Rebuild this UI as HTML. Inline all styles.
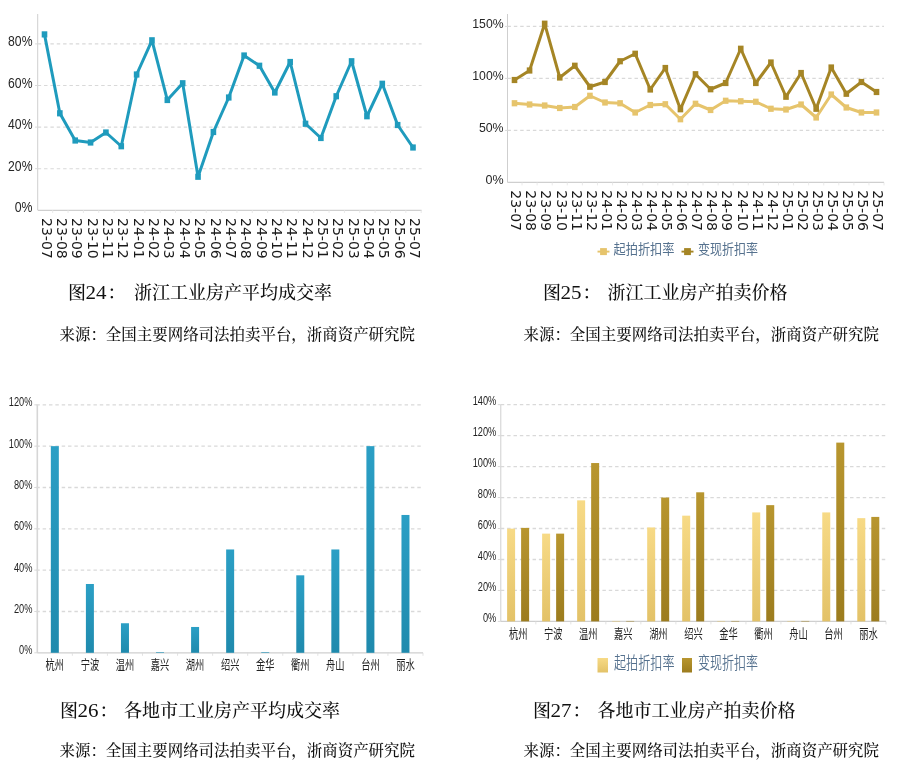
<!DOCTYPE html>
<html lang="zh-CN"><head><meta charset="utf-8"><title>浙江工业房产</title>
<style>
html,body{margin:0;padding:0;background:#fff;}
svg{display:block}
</style></head><body>
<svg width="900" height="765" viewBox="0 0 900 765">
<rect width="900" height="765" fill="#ffffff"/>
<line x1="37.7" y1="14" x2="37.7" y2="210" stroke="#cfcfcf" stroke-width="1"/>
<line x1="37.7" y1="210.4" x2="421.6" y2="210.4" stroke="#cfcfcf" stroke-width="1.2"/>
<text x="32.5" y="212.4" font-size="14" fill="#262626" text-anchor="end" style="font-family:'Liberation Sans', 'Noto Sans CJK SC', sans-serif" textLength="17.8" lengthAdjust="spacingAndGlyphs" >0%</text>
<line x1="37.7" y1="168.7" x2="421.6" y2="168.7" stroke="#d9d9d9" stroke-width="1.15" stroke-dasharray="3.45 2.9" />
<line x1="35.1" y1="168.70" x2="37.7" y2="168.70" stroke="#d9d9d9" stroke-width="1"/>
<text x="32.5" y="170.8" font-size="14" fill="#262626" text-anchor="end" style="font-family:'Liberation Sans', 'Noto Sans CJK SC', sans-serif" textLength="24.4" lengthAdjust="spacingAndGlyphs" >20%</text>
<line x1="37.7" y1="127.1" x2="421.6" y2="127.1" stroke="#d9d9d9" stroke-width="1.15" stroke-dasharray="3.45 2.9" />
<line x1="35.1" y1="127.10" x2="37.7" y2="127.10" stroke="#d9d9d9" stroke-width="1"/>
<text x="32.5" y="129.2" font-size="14" fill="#262626" text-anchor="end" style="font-family:'Liberation Sans', 'Noto Sans CJK SC', sans-serif" textLength="24.4" lengthAdjust="spacingAndGlyphs" >40%</text>
<line x1="37.7" y1="85.5" x2="421.6" y2="85.5" stroke="#d9d9d9" stroke-width="1.15" stroke-dasharray="3.45 2.9" />
<line x1="35.1" y1="85.50" x2="37.7" y2="85.50" stroke="#d9d9d9" stroke-width="1"/>
<text x="32.5" y="87.6" font-size="14" fill="#262626" text-anchor="end" style="font-family:'Liberation Sans', 'Noto Sans CJK SC', sans-serif" textLength="24.4" lengthAdjust="spacingAndGlyphs" >60%</text>
<line x1="37.7" y1="43.9" x2="421.6" y2="43.9" stroke="#d9d9d9" stroke-width="1.15" stroke-dasharray="3.45 2.9" />
<line x1="35.1" y1="43.90" x2="37.7" y2="43.90" stroke="#d9d9d9" stroke-width="1"/>
<text x="32.5" y="46.0" font-size="14" fill="#262626" text-anchor="end" style="font-family:'Liberation Sans', 'Noto Sans CJK SC', sans-serif" textLength="24.4" lengthAdjust="spacingAndGlyphs" >80%</text>
<polyline fill="none" stroke="#1f9bbd" stroke-width="3.0" stroke-linejoin="round" points="44.5,34.4 59.85,113.3 75.21,140.5 90.56,142.5 105.92,132.5 121.27,146.25 136.62,74.5 151.98,40.3 167.33,100 182.69,83.25 198.04,176.75 213.4,132 228.75,97.5 244.1,55.5 259.46,65.75 274.81,92.5 290.17,62 305.52,123.75 320.88,138 336.23,96.25 351.58,61.25 366.94,116.25 382.29,83.75 397.65,125 413.0,147.5"/>
<rect x="41.70" y="31.30" width="5.6" height="6.2" fill="#1f9bbd"/>
<rect x="57.05" y="110.20" width="5.6" height="6.2" fill="#1f9bbd"/>
<rect x="72.41" y="137.40" width="5.6" height="6.2" fill="#1f9bbd"/>
<rect x="87.76" y="139.40" width="5.6" height="6.2" fill="#1f9bbd"/>
<rect x="103.12" y="129.40" width="5.6" height="6.2" fill="#1f9bbd"/>
<rect x="118.47" y="143.15" width="5.6" height="6.2" fill="#1f9bbd"/>
<rect x="133.82" y="71.40" width="5.6" height="6.2" fill="#1f9bbd"/>
<rect x="149.18" y="37.20" width="5.6" height="6.2" fill="#1f9bbd"/>
<rect x="164.53" y="96.90" width="5.6" height="6.2" fill="#1f9bbd"/>
<rect x="179.89" y="80.15" width="5.6" height="6.2" fill="#1f9bbd"/>
<rect x="195.24" y="173.65" width="5.6" height="6.2" fill="#1f9bbd"/>
<rect x="210.60" y="128.90" width="5.6" height="6.2" fill="#1f9bbd"/>
<rect x="225.95" y="94.40" width="5.6" height="6.2" fill="#1f9bbd"/>
<rect x="241.30" y="52.40" width="5.6" height="6.2" fill="#1f9bbd"/>
<rect x="256.66" y="62.65" width="5.6" height="6.2" fill="#1f9bbd"/>
<rect x="272.01" y="89.40" width="5.6" height="6.2" fill="#1f9bbd"/>
<rect x="287.37" y="58.90" width="5.6" height="6.2" fill="#1f9bbd"/>
<rect x="302.72" y="120.65" width="5.6" height="6.2" fill="#1f9bbd"/>
<rect x="318.08" y="134.90" width="5.6" height="6.2" fill="#1f9bbd"/>
<rect x="333.43" y="93.15" width="5.6" height="6.2" fill="#1f9bbd"/>
<rect x="348.78" y="58.15" width="5.6" height="6.2" fill="#1f9bbd"/>
<rect x="364.14" y="113.15" width="5.6" height="6.2" fill="#1f9bbd"/>
<rect x="379.49" y="80.65" width="5.6" height="6.2" fill="#1f9bbd"/>
<rect x="394.85" y="121.90" width="5.6" height="6.2" fill="#1f9bbd"/>
<rect x="410.20" y="144.40" width="5.6" height="6.2" fill="#1f9bbd"/>
<line x1="52.70" y1="210" x2="52.70" y2="213" stroke="#e4e4e4" stroke-width="0.8"/>
<text transform="translate(41.60,218) rotate(90)" font-size="14" fill="#1a1a1a" style="font-family:'DejaVu Sans', 'Liberation Sans', sans-serif" textLength="40.8" lengthAdjust="spacingAndGlyphs">23-07</text>
<line x1="68.05" y1="210" x2="68.05" y2="213" stroke="#e4e4e4" stroke-width="0.8"/>
<text transform="translate(56.95,218) rotate(90)" font-size="14" fill="#1a1a1a" style="font-family:'DejaVu Sans', 'Liberation Sans', sans-serif" textLength="40.8" lengthAdjust="spacingAndGlyphs">23-08</text>
<line x1="83.41" y1="210" x2="83.41" y2="213" stroke="#e4e4e4" stroke-width="0.8"/>
<text transform="translate(72.31,218) rotate(90)" font-size="14" fill="#1a1a1a" style="font-family:'DejaVu Sans', 'Liberation Sans', sans-serif" textLength="40.8" lengthAdjust="spacingAndGlyphs">23-09</text>
<line x1="98.76" y1="210" x2="98.76" y2="213" stroke="#e4e4e4" stroke-width="0.8"/>
<text transform="translate(87.66,218) rotate(90)" font-size="14" fill="#1a1a1a" style="font-family:'DejaVu Sans', 'Liberation Sans', sans-serif" textLength="40.8" lengthAdjust="spacingAndGlyphs">23-10</text>
<line x1="114.12" y1="210" x2="114.12" y2="213" stroke="#e4e4e4" stroke-width="0.8"/>
<text transform="translate(103.02,218) rotate(90)" font-size="14" fill="#1a1a1a" style="font-family:'DejaVu Sans', 'Liberation Sans', sans-serif" textLength="40.8" lengthAdjust="spacingAndGlyphs">23-11</text>
<line x1="129.47" y1="210" x2="129.47" y2="213" stroke="#e4e4e4" stroke-width="0.8"/>
<text transform="translate(118.37,218) rotate(90)" font-size="14" fill="#1a1a1a" style="font-family:'DejaVu Sans', 'Liberation Sans', sans-serif" textLength="40.8" lengthAdjust="spacingAndGlyphs">23-12</text>
<line x1="144.82" y1="210" x2="144.82" y2="213" stroke="#e4e4e4" stroke-width="0.8"/>
<text transform="translate(133.72,218) rotate(90)" font-size="14" fill="#1a1a1a" style="font-family:'DejaVu Sans', 'Liberation Sans', sans-serif" textLength="40.8" lengthAdjust="spacingAndGlyphs">24-01</text>
<line x1="160.18" y1="210" x2="160.18" y2="213" stroke="#e4e4e4" stroke-width="0.8"/>
<text transform="translate(149.08,218) rotate(90)" font-size="14" fill="#1a1a1a" style="font-family:'DejaVu Sans', 'Liberation Sans', sans-serif" textLength="40.8" lengthAdjust="spacingAndGlyphs">24-02</text>
<line x1="175.53" y1="210" x2="175.53" y2="213" stroke="#e4e4e4" stroke-width="0.8"/>
<text transform="translate(164.43,218) rotate(90)" font-size="14" fill="#1a1a1a" style="font-family:'DejaVu Sans', 'Liberation Sans', sans-serif" textLength="40.8" lengthAdjust="spacingAndGlyphs">24-03</text>
<line x1="190.89" y1="210" x2="190.89" y2="213" stroke="#e4e4e4" stroke-width="0.8"/>
<text transform="translate(179.79,218) rotate(90)" font-size="14" fill="#1a1a1a" style="font-family:'DejaVu Sans', 'Liberation Sans', sans-serif" textLength="40.8" lengthAdjust="spacingAndGlyphs">24-04</text>
<line x1="206.24" y1="210" x2="206.24" y2="213" stroke="#e4e4e4" stroke-width="0.8"/>
<text transform="translate(195.14,218) rotate(90)" font-size="14" fill="#1a1a1a" style="font-family:'DejaVu Sans', 'Liberation Sans', sans-serif" textLength="40.8" lengthAdjust="spacingAndGlyphs">24-05</text>
<line x1="221.60" y1="210" x2="221.60" y2="213" stroke="#e4e4e4" stroke-width="0.8"/>
<text transform="translate(210.50,218) rotate(90)" font-size="14" fill="#1a1a1a" style="font-family:'DejaVu Sans', 'Liberation Sans', sans-serif" textLength="40.8" lengthAdjust="spacingAndGlyphs">24-06</text>
<line x1="236.95" y1="210" x2="236.95" y2="213" stroke="#e4e4e4" stroke-width="0.8"/>
<text transform="translate(225.85,218) rotate(90)" font-size="14" fill="#1a1a1a" style="font-family:'DejaVu Sans', 'Liberation Sans', sans-serif" textLength="40.8" lengthAdjust="spacingAndGlyphs">24-07</text>
<line x1="252.30" y1="210" x2="252.30" y2="213" stroke="#e4e4e4" stroke-width="0.8"/>
<text transform="translate(241.20,218) rotate(90)" font-size="14" fill="#1a1a1a" style="font-family:'DejaVu Sans', 'Liberation Sans', sans-serif" textLength="40.8" lengthAdjust="spacingAndGlyphs">24-08</text>
<line x1="267.66" y1="210" x2="267.66" y2="213" stroke="#e4e4e4" stroke-width="0.8"/>
<text transform="translate(256.56,218) rotate(90)" font-size="14" fill="#1a1a1a" style="font-family:'DejaVu Sans', 'Liberation Sans', sans-serif" textLength="40.8" lengthAdjust="spacingAndGlyphs">24-09</text>
<line x1="283.01" y1="210" x2="283.01" y2="213" stroke="#e4e4e4" stroke-width="0.8"/>
<text transform="translate(271.91,218) rotate(90)" font-size="14" fill="#1a1a1a" style="font-family:'DejaVu Sans', 'Liberation Sans', sans-serif" textLength="40.8" lengthAdjust="spacingAndGlyphs">24-10</text>
<line x1="298.37" y1="210" x2="298.37" y2="213" stroke="#e4e4e4" stroke-width="0.8"/>
<text transform="translate(287.27,218) rotate(90)" font-size="14" fill="#1a1a1a" style="font-family:'DejaVu Sans', 'Liberation Sans', sans-serif" textLength="40.8" lengthAdjust="spacingAndGlyphs">24-11</text>
<line x1="313.72" y1="210" x2="313.72" y2="213" stroke="#e4e4e4" stroke-width="0.8"/>
<text transform="translate(302.62,218) rotate(90)" font-size="14" fill="#1a1a1a" style="font-family:'DejaVu Sans', 'Liberation Sans', sans-serif" textLength="40.8" lengthAdjust="spacingAndGlyphs">24-12</text>
<line x1="329.07" y1="210" x2="329.07" y2="213" stroke="#e4e4e4" stroke-width="0.8"/>
<text transform="translate(317.98,218) rotate(90)" font-size="14" fill="#1a1a1a" style="font-family:'DejaVu Sans', 'Liberation Sans', sans-serif" textLength="40.8" lengthAdjust="spacingAndGlyphs">25-01</text>
<line x1="344.43" y1="210" x2="344.43" y2="213" stroke="#e4e4e4" stroke-width="0.8"/>
<text transform="translate(333.33,218) rotate(90)" font-size="14" fill="#1a1a1a" style="font-family:'DejaVu Sans', 'Liberation Sans', sans-serif" textLength="40.8" lengthAdjust="spacingAndGlyphs">25-02</text>
<line x1="359.78" y1="210" x2="359.78" y2="213" stroke="#e4e4e4" stroke-width="0.8"/>
<text transform="translate(348.68,218) rotate(90)" font-size="14" fill="#1a1a1a" style="font-family:'DejaVu Sans', 'Liberation Sans', sans-serif" textLength="40.8" lengthAdjust="spacingAndGlyphs">25-03</text>
<line x1="375.14" y1="210" x2="375.14" y2="213" stroke="#e4e4e4" stroke-width="0.8"/>
<text transform="translate(364.04,218) rotate(90)" font-size="14" fill="#1a1a1a" style="font-family:'DejaVu Sans', 'Liberation Sans', sans-serif" textLength="40.8" lengthAdjust="spacingAndGlyphs">25-04</text>
<line x1="390.49" y1="210" x2="390.49" y2="213" stroke="#e4e4e4" stroke-width="0.8"/>
<text transform="translate(379.39,218) rotate(90)" font-size="14" fill="#1a1a1a" style="font-family:'DejaVu Sans', 'Liberation Sans', sans-serif" textLength="40.8" lengthAdjust="spacingAndGlyphs">25-05</text>
<line x1="405.85" y1="210" x2="405.85" y2="213" stroke="#e4e4e4" stroke-width="0.8"/>
<text transform="translate(394.75,218) rotate(90)" font-size="14" fill="#1a1a1a" style="font-family:'DejaVu Sans', 'Liberation Sans', sans-serif" textLength="40.8" lengthAdjust="spacingAndGlyphs">25-06</text>
<line x1="421.20" y1="210" x2="421.20" y2="213" stroke="#e4e4e4" stroke-width="0.8"/>
<text transform="translate(410.10,218) rotate(90)" font-size="14" fill="#1a1a1a" style="font-family:'DejaVu Sans', 'Liberation Sans', sans-serif" textLength="40.8" lengthAdjust="spacingAndGlyphs">25-07</text>
<line x1="507.5" y1="14" x2="507.5" y2="182.4" stroke="#cfcfcf" stroke-width="1"/>
<line x1="507.5" y1="182.4" x2="884" y2="182.4" stroke="#cfcfcf" stroke-width="1.2"/>
<text x="503.6" y="183.7" font-size="13.5" fill="#262626" text-anchor="end" style="font-family:'Liberation Sans', 'Noto Sans CJK SC', sans-serif" textLength="18.1" lengthAdjust="spacingAndGlyphs" >0%</text>
<line x1="507.5" y1="130.4" x2="884" y2="130.4" stroke="#d9d9d9" stroke-width="1.15" stroke-dasharray="3.45 2.9" />
<line x1="504.9" y1="130.40" x2="507.5" y2="130.40" stroke="#d9d9d9" stroke-width="1"/>
<text x="503.6" y="131.7" font-size="13.5" fill="#262626" text-anchor="end" style="font-family:'Liberation Sans', 'Noto Sans CJK SC', sans-serif" textLength="24.7" lengthAdjust="spacingAndGlyphs" >50%</text>
<line x1="507.5" y1="78.4" x2="884" y2="78.4" stroke="#d9d9d9" stroke-width="1.15" stroke-dasharray="3.45 2.9" />
<line x1="504.9" y1="78.40" x2="507.5" y2="78.40" stroke="#d9d9d9" stroke-width="1"/>
<text x="503.6" y="79.7" font-size="13.5" fill="#262626" text-anchor="end" style="font-family:'Liberation Sans', 'Noto Sans CJK SC', sans-serif" textLength="31.3" lengthAdjust="spacingAndGlyphs" >100%</text>
<line x1="507.5" y1="26.400000000000006" x2="884" y2="26.400000000000006" stroke="#d9d9d9" stroke-width="1.15" stroke-dasharray="3.45 2.9" />
<line x1="504.9" y1="26.40" x2="507.5" y2="26.40" stroke="#d9d9d9" stroke-width="1"/>
<text x="503.6" y="27.7" font-size="13.5" fill="#262626" text-anchor="end" style="font-family:'Liberation Sans', 'Noto Sans CJK SC', sans-serif" textLength="31.3" lengthAdjust="spacingAndGlyphs" >150%</text>
<polyline fill="none" stroke="#e6c46c" stroke-width="3.0" stroke-linejoin="round" points="514.5,103.25 529.58,104.5 544.67,105.5 559.75,108 574.83,107 589.92,95.75 605.0,102.5 620.08,103.25 635.17,112.5 650.25,105 665.33,104.25 680.42,119.25 695.5,103.75 710.58,110 725.67,100.75 740.75,101.25 755.83,101.75 770.92,108.75 786.0,109.5 801.08,104.5 816.17,117.5 831.25,94.5 846.33,107.5 861.42,112.5 876.5,112.5"/>
<rect x="511.70" y="100.15" width="5.6" height="6.2" fill="#e6c46c"/>
<rect x="526.78" y="101.40" width="5.6" height="6.2" fill="#e6c46c"/>
<rect x="541.87" y="102.40" width="5.6" height="6.2" fill="#e6c46c"/>
<rect x="556.95" y="104.90" width="5.6" height="6.2" fill="#e6c46c"/>
<rect x="572.03" y="103.90" width="5.6" height="6.2" fill="#e6c46c"/>
<rect x="587.12" y="92.65" width="5.6" height="6.2" fill="#e6c46c"/>
<rect x="602.20" y="99.40" width="5.6" height="6.2" fill="#e6c46c"/>
<rect x="617.28" y="100.15" width="5.6" height="6.2" fill="#e6c46c"/>
<rect x="632.37" y="109.40" width="5.6" height="6.2" fill="#e6c46c"/>
<rect x="647.45" y="101.90" width="5.6" height="6.2" fill="#e6c46c"/>
<rect x="662.53" y="101.15" width="5.6" height="6.2" fill="#e6c46c"/>
<rect x="677.62" y="116.15" width="5.6" height="6.2" fill="#e6c46c"/>
<rect x="692.70" y="100.65" width="5.6" height="6.2" fill="#e6c46c"/>
<rect x="707.78" y="106.90" width="5.6" height="6.2" fill="#e6c46c"/>
<rect x="722.87" y="97.65" width="5.6" height="6.2" fill="#e6c46c"/>
<rect x="737.95" y="98.15" width="5.6" height="6.2" fill="#e6c46c"/>
<rect x="753.03" y="98.65" width="5.6" height="6.2" fill="#e6c46c"/>
<rect x="768.12" y="105.65" width="5.6" height="6.2" fill="#e6c46c"/>
<rect x="783.20" y="106.40" width="5.6" height="6.2" fill="#e6c46c"/>
<rect x="798.28" y="101.40" width="5.6" height="6.2" fill="#e6c46c"/>
<rect x="813.37" y="114.40" width="5.6" height="6.2" fill="#e6c46c"/>
<rect x="828.45" y="91.40" width="5.6" height="6.2" fill="#e6c46c"/>
<rect x="843.53" y="104.40" width="5.6" height="6.2" fill="#e6c46c"/>
<rect x="858.62" y="109.40" width="5.6" height="6.2" fill="#e6c46c"/>
<rect x="873.70" y="109.40" width="5.6" height="6.2" fill="#e6c46c"/>
<polyline fill="none" stroke="#a58525" stroke-width="3.0" stroke-linejoin="round" points="514.5,80 529.58,70.5 544.67,23.7 559.75,77.5 574.83,65.75 589.92,86.75 605.0,82 620.08,61.25 635.17,53.75 650.25,89.5 665.33,68 680.42,109.25 695.5,74.25 710.58,89.25 725.67,83 740.75,48.75 755.83,83 770.92,62.5 786.0,96.75 801.08,73 816.17,108.75 831.25,67.5 846.33,93.75 861.42,82 876.5,92"/>
<rect x="511.70" y="76.90" width="5.6" height="6.2" fill="#a58525"/>
<rect x="526.78" y="67.40" width="5.6" height="6.2" fill="#a58525"/>
<rect x="541.87" y="20.60" width="5.6" height="6.2" fill="#a58525"/>
<rect x="556.95" y="74.40" width="5.6" height="6.2" fill="#a58525"/>
<rect x="572.03" y="62.65" width="5.6" height="6.2" fill="#a58525"/>
<rect x="587.12" y="83.65" width="5.6" height="6.2" fill="#a58525"/>
<rect x="602.20" y="78.90" width="5.6" height="6.2" fill="#a58525"/>
<rect x="617.28" y="58.15" width="5.6" height="6.2" fill="#a58525"/>
<rect x="632.37" y="50.65" width="5.6" height="6.2" fill="#a58525"/>
<rect x="647.45" y="86.40" width="5.6" height="6.2" fill="#a58525"/>
<rect x="662.53" y="64.90" width="5.6" height="6.2" fill="#a58525"/>
<rect x="677.62" y="106.15" width="5.6" height="6.2" fill="#a58525"/>
<rect x="692.70" y="71.15" width="5.6" height="6.2" fill="#a58525"/>
<rect x="707.78" y="86.15" width="5.6" height="6.2" fill="#a58525"/>
<rect x="722.87" y="79.90" width="5.6" height="6.2" fill="#a58525"/>
<rect x="737.95" y="45.65" width="5.6" height="6.2" fill="#a58525"/>
<rect x="753.03" y="79.90" width="5.6" height="6.2" fill="#a58525"/>
<rect x="768.12" y="59.40" width="5.6" height="6.2" fill="#a58525"/>
<rect x="783.20" y="93.65" width="5.6" height="6.2" fill="#a58525"/>
<rect x="798.28" y="69.90" width="5.6" height="6.2" fill="#a58525"/>
<rect x="813.37" y="105.65" width="5.6" height="6.2" fill="#a58525"/>
<rect x="828.45" y="64.40" width="5.6" height="6.2" fill="#a58525"/>
<rect x="843.53" y="90.65" width="5.6" height="6.2" fill="#a58525"/>
<rect x="858.62" y="78.90" width="5.6" height="6.2" fill="#a58525"/>
<rect x="873.70" y="88.90" width="5.6" height="6.2" fill="#a58525"/>
<line x1="522.04" y1="182.4" x2="522.04" y2="185.4" stroke="#e4e4e4" stroke-width="0.8"/>
<text transform="translate(511.30,190.2) rotate(90)" font-size="14" fill="#1a1a1a" style="font-family:'DejaVu Sans', 'Liberation Sans', sans-serif" textLength="40.8" lengthAdjust="spacingAndGlyphs">23-07</text>
<line x1="537.12" y1="182.4" x2="537.12" y2="185.4" stroke="#e4e4e4" stroke-width="0.8"/>
<text transform="translate(526.38,190.2) rotate(90)" font-size="14" fill="#1a1a1a" style="font-family:'DejaVu Sans', 'Liberation Sans', sans-serif" textLength="40.8" lengthAdjust="spacingAndGlyphs">23-08</text>
<line x1="552.21" y1="182.4" x2="552.21" y2="185.4" stroke="#e4e4e4" stroke-width="0.8"/>
<text transform="translate(541.47,190.2) rotate(90)" font-size="14" fill="#1a1a1a" style="font-family:'DejaVu Sans', 'Liberation Sans', sans-serif" textLength="40.8" lengthAdjust="spacingAndGlyphs">23-09</text>
<line x1="567.29" y1="182.4" x2="567.29" y2="185.4" stroke="#e4e4e4" stroke-width="0.8"/>
<text transform="translate(556.55,190.2) rotate(90)" font-size="14" fill="#1a1a1a" style="font-family:'DejaVu Sans', 'Liberation Sans', sans-serif" textLength="40.8" lengthAdjust="spacingAndGlyphs">23-10</text>
<line x1="582.38" y1="182.4" x2="582.38" y2="185.4" stroke="#e4e4e4" stroke-width="0.8"/>
<text transform="translate(571.63,190.2) rotate(90)" font-size="14" fill="#1a1a1a" style="font-family:'DejaVu Sans', 'Liberation Sans', sans-serif" textLength="40.8" lengthAdjust="spacingAndGlyphs">23-11</text>
<line x1="597.46" y1="182.4" x2="597.46" y2="185.4" stroke="#e4e4e4" stroke-width="0.8"/>
<text transform="translate(586.72,190.2) rotate(90)" font-size="14" fill="#1a1a1a" style="font-family:'DejaVu Sans', 'Liberation Sans', sans-serif" textLength="40.8" lengthAdjust="spacingAndGlyphs">23-12</text>
<line x1="612.54" y1="182.4" x2="612.54" y2="185.4" stroke="#e4e4e4" stroke-width="0.8"/>
<text transform="translate(601.80,190.2) rotate(90)" font-size="14" fill="#1a1a1a" style="font-family:'DejaVu Sans', 'Liberation Sans', sans-serif" textLength="40.8" lengthAdjust="spacingAndGlyphs">24-01</text>
<line x1="627.62" y1="182.4" x2="627.62" y2="185.4" stroke="#e4e4e4" stroke-width="0.8"/>
<text transform="translate(616.88,190.2) rotate(90)" font-size="14" fill="#1a1a1a" style="font-family:'DejaVu Sans', 'Liberation Sans', sans-serif" textLength="40.8" lengthAdjust="spacingAndGlyphs">24-02</text>
<line x1="642.71" y1="182.4" x2="642.71" y2="185.4" stroke="#e4e4e4" stroke-width="0.8"/>
<text transform="translate(631.97,190.2) rotate(90)" font-size="14" fill="#1a1a1a" style="font-family:'DejaVu Sans', 'Liberation Sans', sans-serif" textLength="40.8" lengthAdjust="spacingAndGlyphs">24-03</text>
<line x1="657.79" y1="182.4" x2="657.79" y2="185.4" stroke="#e4e4e4" stroke-width="0.8"/>
<text transform="translate(647.05,190.2) rotate(90)" font-size="14" fill="#1a1a1a" style="font-family:'DejaVu Sans', 'Liberation Sans', sans-serif" textLength="40.8" lengthAdjust="spacingAndGlyphs">24-04</text>
<line x1="672.88" y1="182.4" x2="672.88" y2="185.4" stroke="#e4e4e4" stroke-width="0.8"/>
<text transform="translate(662.13,190.2) rotate(90)" font-size="14" fill="#1a1a1a" style="font-family:'DejaVu Sans', 'Liberation Sans', sans-serif" textLength="40.8" lengthAdjust="spacingAndGlyphs">24-05</text>
<line x1="687.96" y1="182.4" x2="687.96" y2="185.4" stroke="#e4e4e4" stroke-width="0.8"/>
<text transform="translate(677.22,190.2) rotate(90)" font-size="14" fill="#1a1a1a" style="font-family:'DejaVu Sans', 'Liberation Sans', sans-serif" textLength="40.8" lengthAdjust="spacingAndGlyphs">24-06</text>
<line x1="703.04" y1="182.4" x2="703.04" y2="185.4" stroke="#e4e4e4" stroke-width="0.8"/>
<text transform="translate(692.30,190.2) rotate(90)" font-size="14" fill="#1a1a1a" style="font-family:'DejaVu Sans', 'Liberation Sans', sans-serif" textLength="40.8" lengthAdjust="spacingAndGlyphs">24-07</text>
<line x1="718.12" y1="182.4" x2="718.12" y2="185.4" stroke="#e4e4e4" stroke-width="0.8"/>
<text transform="translate(707.38,190.2) rotate(90)" font-size="14" fill="#1a1a1a" style="font-family:'DejaVu Sans', 'Liberation Sans', sans-serif" textLength="40.8" lengthAdjust="spacingAndGlyphs">24-08</text>
<line x1="733.21" y1="182.4" x2="733.21" y2="185.4" stroke="#e4e4e4" stroke-width="0.8"/>
<text transform="translate(722.47,190.2) rotate(90)" font-size="14" fill="#1a1a1a" style="font-family:'DejaVu Sans', 'Liberation Sans', sans-serif" textLength="40.8" lengthAdjust="spacingAndGlyphs">24-09</text>
<line x1="748.29" y1="182.4" x2="748.29" y2="185.4" stroke="#e4e4e4" stroke-width="0.8"/>
<text transform="translate(737.55,190.2) rotate(90)" font-size="14" fill="#1a1a1a" style="font-family:'DejaVu Sans', 'Liberation Sans', sans-serif" textLength="40.8" lengthAdjust="spacingAndGlyphs">24-10</text>
<line x1="763.38" y1="182.4" x2="763.38" y2="185.4" stroke="#e4e4e4" stroke-width="0.8"/>
<text transform="translate(752.63,190.2) rotate(90)" font-size="14" fill="#1a1a1a" style="font-family:'DejaVu Sans', 'Liberation Sans', sans-serif" textLength="40.8" lengthAdjust="spacingAndGlyphs">24-11</text>
<line x1="778.46" y1="182.4" x2="778.46" y2="185.4" stroke="#e4e4e4" stroke-width="0.8"/>
<text transform="translate(767.72,190.2) rotate(90)" font-size="14" fill="#1a1a1a" style="font-family:'DejaVu Sans', 'Liberation Sans', sans-serif" textLength="40.8" lengthAdjust="spacingAndGlyphs">24-12</text>
<line x1="793.54" y1="182.4" x2="793.54" y2="185.4" stroke="#e4e4e4" stroke-width="0.8"/>
<text transform="translate(782.80,190.2) rotate(90)" font-size="14" fill="#1a1a1a" style="font-family:'DejaVu Sans', 'Liberation Sans', sans-serif" textLength="40.8" lengthAdjust="spacingAndGlyphs">25-01</text>
<line x1="808.62" y1="182.4" x2="808.62" y2="185.4" stroke="#e4e4e4" stroke-width="0.8"/>
<text transform="translate(797.88,190.2) rotate(90)" font-size="14" fill="#1a1a1a" style="font-family:'DejaVu Sans', 'Liberation Sans', sans-serif" textLength="40.8" lengthAdjust="spacingAndGlyphs">25-02</text>
<line x1="823.71" y1="182.4" x2="823.71" y2="185.4" stroke="#e4e4e4" stroke-width="0.8"/>
<text transform="translate(812.97,190.2) rotate(90)" font-size="14" fill="#1a1a1a" style="font-family:'DejaVu Sans', 'Liberation Sans', sans-serif" textLength="40.8" lengthAdjust="spacingAndGlyphs">25-03</text>
<line x1="838.79" y1="182.4" x2="838.79" y2="185.4" stroke="#e4e4e4" stroke-width="0.8"/>
<text transform="translate(828.05,190.2) rotate(90)" font-size="14" fill="#1a1a1a" style="font-family:'DejaVu Sans', 'Liberation Sans', sans-serif" textLength="40.8" lengthAdjust="spacingAndGlyphs">25-04</text>
<line x1="853.88" y1="182.4" x2="853.88" y2="185.4" stroke="#e4e4e4" stroke-width="0.8"/>
<text transform="translate(843.13,190.2) rotate(90)" font-size="14" fill="#1a1a1a" style="font-family:'DejaVu Sans', 'Liberation Sans', sans-serif" textLength="40.8" lengthAdjust="spacingAndGlyphs">25-05</text>
<line x1="868.96" y1="182.4" x2="868.96" y2="185.4" stroke="#e4e4e4" stroke-width="0.8"/>
<text transform="translate(858.22,190.2) rotate(90)" font-size="14" fill="#1a1a1a" style="font-family:'DejaVu Sans', 'Liberation Sans', sans-serif" textLength="40.8" lengthAdjust="spacingAndGlyphs">25-06</text>
<line x1="884.04" y1="182.4" x2="884.04" y2="185.4" stroke="#e4e4e4" stroke-width="0.8"/>
<text transform="translate(873.30,190.2) rotate(90)" font-size="14" fill="#1a1a1a" style="font-family:'DejaVu Sans', 'Liberation Sans', sans-serif" textLength="40.8" lengthAdjust="spacingAndGlyphs">25-07</text>
<line x1="597.5" y1="251.6" x2="609.5" y2="251.6" stroke="#e6c46c" stroke-width="1.9"/>
<rect x="600.1" y="248.1" width="6.8" height="7" fill="#e6c46c"/>
<text x="613.5" y="254.2" font-size="13.5" fill="#55718e" text-anchor="start" style="font-family:'Liberation Sans', 'Noto Sans CJK SC', sans-serif" textLength="61" lengthAdjust="spacingAndGlyphs" >起拍折扣率</text>
<line x1="681.5" y1="251.6" x2="693.5" y2="251.6" stroke="#a58525" stroke-width="1.9"/>
<rect x="684.1" y="248.1" width="6.8" height="7" fill="#a58525"/>
<text x="698" y="254.2" font-size="13.5" fill="#55718e" text-anchor="start" style="font-family:'Liberation Sans', 'Noto Sans CJK SC', sans-serif" textLength="60" lengthAdjust="spacingAndGlyphs" >变现折扣率</text>
<text x="68" y="299" font-size="18" fill="#111" text-anchor="start" style="font-family:'Liberation Serif', 'Noto Serif CJK SC', serif" font-weight="500">图</text>
<text x="85.6" y="299" font-size="18" fill="#111" text-anchor="start" style="font-family:'Liberation Serif', 'Noto Serif CJK SC', serif" textLength="21" lengthAdjust="spacingAndGlyphs" font-weight="500">24</text>
<text x="107.5" y="299" font-size="18" fill="#111" text-anchor="start" style="font-family:'Liberation Serif', 'Noto Serif CJK SC', serif" font-weight="500">：</text>
<text x="134" y="299" font-size="18" fill="#111" text-anchor="start" style="font-family:'Liberation Serif', 'Noto Serif CJK SC', serif" textLength="198.0" lengthAdjust="spacingAndGlyphs" font-weight="500">浙江工业房产平均成交率</text>
<text x="59.5" y="339.5" font-size="15.5" fill="#111" text-anchor="start" style="font-family:'Liberation Serif', 'Noto Serif CJK SC', serif" textLength="355.5" lengthAdjust="spacingAndGlyphs" font-weight="500">来源：全国主要网络司法拍卖平台，浙商资产研究院</text>
<text x="543" y="299" font-size="18" fill="#111" text-anchor="start" style="font-family:'Liberation Serif', 'Noto Serif CJK SC', serif" font-weight="500">图</text>
<text x="560.6" y="299" font-size="18" fill="#111" text-anchor="start" style="font-family:'Liberation Serif', 'Noto Serif CJK SC', serif" textLength="21" lengthAdjust="spacingAndGlyphs" font-weight="500">25</text>
<text x="582.5" y="299" font-size="18" fill="#111" text-anchor="start" style="font-family:'Liberation Serif', 'Noto Serif CJK SC', serif" font-weight="500">：</text>
<text x="607.5" y="299" font-size="18" fill="#111" text-anchor="start" style="font-family:'Liberation Serif', 'Noto Serif CJK SC', serif" textLength="180.0" lengthAdjust="spacingAndGlyphs" font-weight="500">浙江工业房产拍卖价格</text>
<text x="523.5" y="339.5" font-size="15.5" fill="#111" text-anchor="start" style="font-family:'Liberation Serif', 'Noto Serif CJK SC', serif" textLength="355.5" lengthAdjust="spacingAndGlyphs" font-weight="500">来源：全国主要网络司法拍卖平台，浙商资产研究院</text>
<text x="60" y="717" font-size="18" fill="#111" text-anchor="start" style="font-family:'Liberation Serif', 'Noto Serif CJK SC', serif" font-weight="500">图</text>
<text x="77.6" y="717" font-size="18" fill="#111" text-anchor="start" style="font-family:'Liberation Serif', 'Noto Serif CJK SC', serif" textLength="21" lengthAdjust="spacingAndGlyphs" font-weight="500">26</text>
<text x="99.5" y="717" font-size="18" fill="#111" text-anchor="start" style="font-family:'Liberation Serif', 'Noto Serif CJK SC', serif" font-weight="500">：</text>
<text x="124" y="717" font-size="18" fill="#111" text-anchor="start" style="font-family:'Liberation Serif', 'Noto Serif CJK SC', serif" textLength="216.0" lengthAdjust="spacingAndGlyphs" font-weight="500">各地市工业房产平均成交率</text>
<text x="59.5" y="756" font-size="15.5" fill="#111" text-anchor="start" style="font-family:'Liberation Serif', 'Noto Serif CJK SC', serif" textLength="355.5" lengthAdjust="spacingAndGlyphs" font-weight="500">来源：全国主要网络司法拍卖平台，浙商资产研究院</text>
<text x="533" y="717" font-size="18" fill="#111" text-anchor="start" style="font-family:'Liberation Serif', 'Noto Serif CJK SC', serif" font-weight="500">图</text>
<text x="550.6" y="717" font-size="18" fill="#111" text-anchor="start" style="font-family:'Liberation Serif', 'Noto Serif CJK SC', serif" textLength="21" lengthAdjust="spacingAndGlyphs" font-weight="500">27</text>
<text x="572.5" y="717" font-size="18" fill="#111" text-anchor="start" style="font-family:'Liberation Serif', 'Noto Serif CJK SC', serif" font-weight="500">：</text>
<text x="597.5" y="717" font-size="18" fill="#111" text-anchor="start" style="font-family:'Liberation Serif', 'Noto Serif CJK SC', serif" textLength="198.0" lengthAdjust="spacingAndGlyphs" font-weight="500">各地市工业房产拍卖价格</text>
<text x="523.5" y="756" font-size="15.5" fill="#111" text-anchor="start" style="font-family:'Liberation Serif', 'Noto Serif CJK SC', serif" textLength="355.5" lengthAdjust="spacingAndGlyphs" font-weight="500">来源：全国主要网络司法拍卖平台，浙商资产研究院</text>
<defs><linearGradient id="gb" x1="0" y1="0" x2="0" y2="1"><stop offset="0" stop-color="#2b9fc5"/><stop offset="1" stop-color="#1f8aad"/></linearGradient><linearGradient id="gl" x1="0" y1="0" x2="0" y2="1"><stop offset="0" stop-color="#f7da86"/><stop offset="1" stop-color="#e3c268"/></linearGradient><linearGradient id="gd" x1="0" y1="0" x2="0" y2="1"><stop offset="0" stop-color="#b8962f"/><stop offset="1" stop-color="#9c7c1e"/></linearGradient></defs>
<line x1="37.3" y1="404.82" x2="37.3" y2="652.8" stroke="#d6d6d6" stroke-width="1.6"/>
<line x1="34.3" y1="652.8" x2="37.3" y2="652.8" stroke="#d9d9d9" stroke-width="1"/>
<text x="32.4" y="654.2" font-size="13.5" fill="#222" text-anchor="end" style="font-family:'Liberation Sans', 'Noto Sans CJK SC', sans-serif" textLength="13.3" lengthAdjust="spacingAndGlyphs" >0%</text>
<line x1="36.3" y1="611.47" x2="423" y2="611.47" stroke="#d9d9d9" stroke-width="1.35" stroke-dasharray="3.45 2.9" />
<line x1="34.3" y1="611.47" x2="37.3" y2="611.47" stroke="#d9d9d9" stroke-width="1"/>
<text x="32.4" y="612.87" font-size="13.5" fill="#222" text-anchor="end" style="font-family:'Liberation Sans', 'Noto Sans CJK SC', sans-serif" textLength="18.5" lengthAdjust="spacingAndGlyphs" >20%</text>
<line x1="36.3" y1="570.14" x2="423" y2="570.14" stroke="#d9d9d9" stroke-width="1.35" stroke-dasharray="3.45 2.9" />
<line x1="34.3" y1="570.14" x2="37.3" y2="570.14" stroke="#d9d9d9" stroke-width="1"/>
<text x="32.4" y="571.54" font-size="13.5" fill="#222" text-anchor="end" style="font-family:'Liberation Sans', 'Noto Sans CJK SC', sans-serif" textLength="18.5" lengthAdjust="spacingAndGlyphs" >40%</text>
<line x1="36.3" y1="528.81" x2="423" y2="528.81" stroke="#d9d9d9" stroke-width="1.35" stroke-dasharray="3.45 2.9" />
<line x1="34.3" y1="528.81" x2="37.3" y2="528.81" stroke="#d9d9d9" stroke-width="1"/>
<text x="32.4" y="530.21" font-size="13.5" fill="#222" text-anchor="end" style="font-family:'Liberation Sans', 'Noto Sans CJK SC', sans-serif" textLength="18.5" lengthAdjust="spacingAndGlyphs" >60%</text>
<line x1="36.3" y1="487.48" x2="423" y2="487.48" stroke="#d9d9d9" stroke-width="1.35" stroke-dasharray="3.45 2.9" />
<line x1="34.3" y1="487.48" x2="37.3" y2="487.48" stroke="#d9d9d9" stroke-width="1"/>
<text x="32.4" y="488.88" font-size="13.5" fill="#222" text-anchor="end" style="font-family:'Liberation Sans', 'Noto Sans CJK SC', sans-serif" textLength="18.5" lengthAdjust="spacingAndGlyphs" >80%</text>
<line x1="36.3" y1="446.15" x2="423" y2="446.15" stroke="#d9d9d9" stroke-width="1.35" stroke-dasharray="3.45 2.9" />
<line x1="34.3" y1="446.15" x2="37.3" y2="446.15" stroke="#d9d9d9" stroke-width="1"/>
<text x="32.4" y="447.55" font-size="13.5" fill="#222" text-anchor="end" style="font-family:'Liberation Sans', 'Noto Sans CJK SC', sans-serif" textLength="23.6" lengthAdjust="spacingAndGlyphs" >100%</text>
<line x1="36.3" y1="404.82" x2="423" y2="404.82" stroke="#d9d9d9" stroke-width="1.35" stroke-dasharray="3.45 2.9" />
<line x1="34.3" y1="404.82" x2="37.3" y2="404.82" stroke="#d9d9d9" stroke-width="1"/>
<text x="32.4" y="406.22" font-size="13.5" fill="#222" text-anchor="end" style="font-family:'Liberation Sans', 'Noto Sans CJK SC', sans-serif" textLength="23.6" lengthAdjust="spacingAndGlyphs" >120%</text>
<line x1="37.3" y1="652.8" x2="423" y2="652.8" stroke="#cfcfcf" stroke-width="1.2"/>
<rect x="50.83" y="446.15" width="8" height="206.65" fill="url(#gb)"/>
<line x1="72.36" y1="652.8" x2="72.36" y2="655.8" stroke="#dcdcdc" stroke-width="0.8"/>
<text x="54.83" y="669.3" font-size="13" fill="#222" text-anchor="middle" style="font-family:'Liberation Sans', 'Noto Sans CJK SC', sans-serif" textLength="18.5" lengthAdjust="spacingAndGlyphs" >杭州</text>
<rect x="85.90" y="583.99" width="8" height="68.81" fill="url(#gb)"/>
<line x1="107.43" y1="652.8" x2="107.43" y2="655.8" stroke="#dcdcdc" stroke-width="0.8"/>
<text x="89.9" y="669.3" font-size="13" fill="#222" text-anchor="middle" style="font-family:'Liberation Sans', 'Noto Sans CJK SC', sans-serif" textLength="18.5" lengthAdjust="spacingAndGlyphs" >宁波</text>
<rect x="120.96" y="623.25" width="8" height="29.55" fill="url(#gb)"/>
<line x1="142.49" y1="652.8" x2="142.49" y2="655.8" stroke="#dcdcdc" stroke-width="0.8"/>
<text x="124.96" y="669.3" font-size="13" fill="#222" text-anchor="middle" style="font-family:'Liberation Sans', 'Noto Sans CJK SC', sans-serif" textLength="18.5" lengthAdjust="spacingAndGlyphs" >温州</text>
<rect x="156.02" y="652.18" width="8" height="0.62" fill="url(#gb)"/>
<line x1="177.55" y1="652.8" x2="177.55" y2="655.8" stroke="#dcdcdc" stroke-width="0.8"/>
<text x="160.02" y="669.3" font-size="13" fill="#222" text-anchor="middle" style="font-family:'Liberation Sans', 'Noto Sans CJK SC', sans-serif" textLength="18.5" lengthAdjust="spacingAndGlyphs" >嘉兴</text>
<rect x="191.09" y="626.97" width="8" height="25.83" fill="url(#gb)"/>
<line x1="212.62" y1="652.8" x2="212.62" y2="655.8" stroke="#dcdcdc" stroke-width="0.8"/>
<text x="195.09" y="669.3" font-size="13" fill="#222" text-anchor="middle" style="font-family:'Liberation Sans', 'Noto Sans CJK SC', sans-serif" textLength="18.5" lengthAdjust="spacingAndGlyphs" >湖州</text>
<rect x="226.15" y="549.47" width="8" height="103.32" fill="url(#gb)"/>
<line x1="247.68" y1="652.8" x2="247.68" y2="655.8" stroke="#dcdcdc" stroke-width="0.8"/>
<text x="230.15" y="669.3" font-size="13" fill="#222" text-anchor="middle" style="font-family:'Liberation Sans', 'Noto Sans CJK SC', sans-serif" textLength="18.5" lengthAdjust="spacingAndGlyphs" >绍兴</text>
<rect x="261.21" y="652.18" width="8" height="0.62" fill="url(#gb)"/>
<line x1="282.75" y1="652.8" x2="282.75" y2="655.8" stroke="#dcdcdc" stroke-width="0.8"/>
<text x="265.21" y="669.3" font-size="13" fill="#222" text-anchor="middle" style="font-family:'Liberation Sans', 'Noto Sans CJK SC', sans-serif" textLength="18.5" lengthAdjust="spacingAndGlyphs" >金华</text>
<rect x="296.28" y="575.31" width="8" height="77.49" fill="url(#gb)"/>
<line x1="317.81" y1="652.8" x2="317.81" y2="655.8" stroke="#dcdcdc" stroke-width="0.8"/>
<text x="300.28" y="669.3" font-size="13" fill="#222" text-anchor="middle" style="font-family:'Liberation Sans', 'Noto Sans CJK SC', sans-serif" textLength="18.5" lengthAdjust="spacingAndGlyphs" >衢州</text>
<rect x="331.34" y="549.47" width="8" height="103.32" fill="url(#gb)"/>
<line x1="352.87" y1="652.8" x2="352.87" y2="655.8" stroke="#dcdcdc" stroke-width="0.8"/>
<text x="335.34" y="669.3" font-size="13" fill="#222" text-anchor="middle" style="font-family:'Liberation Sans', 'Noto Sans CJK SC', sans-serif" textLength="18.5" lengthAdjust="spacingAndGlyphs" >舟山</text>
<rect x="366.40" y="446.15" width="8" height="206.65" fill="url(#gb)"/>
<line x1="387.94" y1="652.8" x2="387.94" y2="655.8" stroke="#dcdcdc" stroke-width="0.8"/>
<text x="370.4" y="669.3" font-size="13" fill="#222" text-anchor="middle" style="font-family:'Liberation Sans', 'Noto Sans CJK SC', sans-serif" textLength="18.5" lengthAdjust="spacingAndGlyphs" >台州</text>
<rect x="401.47" y="514.96" width="8" height="137.84" fill="url(#gb)"/>
<line x1="423.00" y1="652.8" x2="423.00" y2="655.8" stroke="#dcdcdc" stroke-width="0.8"/>
<text x="405.47" y="669.3" font-size="13" fill="#222" text-anchor="middle" style="font-family:'Liberation Sans', 'Noto Sans CJK SC', sans-serif" textLength="18.5" lengthAdjust="spacingAndGlyphs" >丽水</text>
<line x1="500.8" y1="404.68" x2="500.8" y2="621.4" stroke="#cfcfcf" stroke-width="1"/>
<line x1="497.8" y1="621.4" x2="500.8" y2="621.4" stroke="#d9d9d9" stroke-width="1"/>
<text x="496.3" y="622.1" font-size="13.5" fill="#222" text-anchor="end" style="font-family:'Liberation Sans', 'Noto Sans CJK SC', sans-serif" textLength="13.3" lengthAdjust="spacingAndGlyphs" >0%</text>
<line x1="500.8" y1="590.44" x2="886" y2="590.44" stroke="#d9d9d9" stroke-width="1.35" stroke-dasharray="3.45 2.9" />
<line x1="497.8" y1="590.44" x2="500.8" y2="590.44" stroke="#d9d9d9" stroke-width="1"/>
<text x="496.3" y="591.14" font-size="13.5" fill="#222" text-anchor="end" style="font-family:'Liberation Sans', 'Noto Sans CJK SC', sans-serif" textLength="18.5" lengthAdjust="spacingAndGlyphs" >20%</text>
<line x1="500.8" y1="559.48" x2="886" y2="559.48" stroke="#d9d9d9" stroke-width="1.35" stroke-dasharray="3.45 2.9" />
<line x1="497.8" y1="559.48" x2="500.8" y2="559.48" stroke="#d9d9d9" stroke-width="1"/>
<text x="496.3" y="560.18" font-size="13.5" fill="#222" text-anchor="end" style="font-family:'Liberation Sans', 'Noto Sans CJK SC', sans-serif" textLength="18.5" lengthAdjust="spacingAndGlyphs" >40%</text>
<line x1="500.8" y1="528.52" x2="886" y2="528.52" stroke="#d9d9d9" stroke-width="1.35" stroke-dasharray="3.45 2.9" />
<line x1="497.8" y1="528.52" x2="500.8" y2="528.52" stroke="#d9d9d9" stroke-width="1"/>
<text x="496.3" y="529.22" font-size="13.5" fill="#222" text-anchor="end" style="font-family:'Liberation Sans', 'Noto Sans CJK SC', sans-serif" textLength="18.5" lengthAdjust="spacingAndGlyphs" >60%</text>
<line x1="500.8" y1="497.56" x2="886" y2="497.56" stroke="#d9d9d9" stroke-width="1.35" stroke-dasharray="3.45 2.9" />
<line x1="497.8" y1="497.56" x2="500.8" y2="497.56" stroke="#d9d9d9" stroke-width="1"/>
<text x="496.3" y="498.26" font-size="13.5" fill="#222" text-anchor="end" style="font-family:'Liberation Sans', 'Noto Sans CJK SC', sans-serif" textLength="18.5" lengthAdjust="spacingAndGlyphs" >80%</text>
<line x1="500.8" y1="466.6" x2="886" y2="466.6" stroke="#d9d9d9" stroke-width="1.35" stroke-dasharray="3.45 2.9" />
<line x1="497.8" y1="466.6" x2="500.8" y2="466.6" stroke="#d9d9d9" stroke-width="1"/>
<text x="496.3" y="467.3" font-size="13.5" fill="#222" text-anchor="end" style="font-family:'Liberation Sans', 'Noto Sans CJK SC', sans-serif" textLength="23.6" lengthAdjust="spacingAndGlyphs" >100%</text>
<line x1="500.8" y1="435.64" x2="886" y2="435.64" stroke="#d9d9d9" stroke-width="1.35" stroke-dasharray="3.45 2.9" />
<line x1="497.8" y1="435.64" x2="500.8" y2="435.64" stroke="#d9d9d9" stroke-width="1"/>
<text x="496.3" y="436.34" font-size="13.5" fill="#222" text-anchor="end" style="font-family:'Liberation Sans', 'Noto Sans CJK SC', sans-serif" textLength="23.6" lengthAdjust="spacingAndGlyphs" >120%</text>
<line x1="500.8" y1="404.68" x2="886" y2="404.68" stroke="#d9d9d9" stroke-width="1.35" stroke-dasharray="3.45 2.9" />
<line x1="497.8" y1="404.68" x2="500.8" y2="404.68" stroke="#d9d9d9" stroke-width="1"/>
<text x="496.3" y="405.38" font-size="13.5" fill="#222" text-anchor="end" style="font-family:'Liberation Sans', 'Noto Sans CJK SC', sans-serif" textLength="23.6" lengthAdjust="spacingAndGlyphs" >140%</text>
<line x1="500.8" y1="621.4" x2="886" y2="621.4" stroke="#cfcfcf" stroke-width="1.2"/>
<rect x="507.11" y="528.67" width="8" height="92.73" fill="url(#gl)"/>
<rect x="521.11" y="527.90" width="8" height="93.50" fill="url(#gd)"/>
<line x1="535.82" y1="621.4" x2="535.82" y2="624.4" stroke="#dcdcdc" stroke-width="0.8"/>
<text x="518.31" y="638.3" font-size="13" fill="#222" text-anchor="middle" style="font-family:'Liberation Sans', 'Noto Sans CJK SC', sans-serif" textLength="18.5" lengthAdjust="spacingAndGlyphs" >杭州</text>
<rect x="542.13" y="533.63" width="8" height="87.77" fill="url(#gl)"/>
<rect x="556.13" y="533.63" width="8" height="87.77" fill="url(#gd)"/>
<line x1="570.84" y1="621.4" x2="570.84" y2="624.4" stroke="#dcdcdc" stroke-width="0.8"/>
<text x="553.33" y="638.3" font-size="13" fill="#222" text-anchor="middle" style="font-family:'Liberation Sans', 'Noto Sans CJK SC', sans-serif" textLength="18.5" lengthAdjust="spacingAndGlyphs" >宁波</text>
<rect x="577.15" y="500.35" width="8" height="121.05" fill="url(#gl)"/>
<rect x="591.15" y="463.04" width="8" height="158.36" fill="url(#gd)"/>
<line x1="605.85" y1="621.4" x2="605.85" y2="624.4" stroke="#dcdcdc" stroke-width="0.8"/>
<text x="588.35" y="638.3" font-size="13" fill="#222" text-anchor="middle" style="font-family:'Liberation Sans', 'Noto Sans CJK SC', sans-serif" textLength="18.5" lengthAdjust="spacingAndGlyphs" >温州</text>
<rect x="612.16" y="620.94" width="8" height="0.46" fill="url(#gl)"/>
<rect x="626.16" y="620.94" width="8" height="0.46" fill="url(#gd)"/>
<line x1="640.87" y1="621.4" x2="640.87" y2="624.4" stroke="#dcdcdc" stroke-width="0.8"/>
<text x="623.36" y="638.3" font-size="13" fill="#222" text-anchor="middle" style="font-family:'Liberation Sans', 'Noto Sans CJK SC', sans-serif" textLength="18.5" lengthAdjust="spacingAndGlyphs" >嘉兴</text>
<rect x="647.18" y="527.44" width="8" height="93.96" fill="url(#gl)"/>
<rect x="661.18" y="497.56" width="8" height="123.84" fill="url(#gd)"/>
<line x1="675.89" y1="621.4" x2="675.89" y2="624.4" stroke="#dcdcdc" stroke-width="0.8"/>
<text x="658.38" y="638.3" font-size="13" fill="#222" text-anchor="middle" style="font-family:'Liberation Sans', 'Noto Sans CJK SC', sans-serif" textLength="18.5" lengthAdjust="spacingAndGlyphs" >湖州</text>
<rect x="682.20" y="515.67" width="8" height="105.73" fill="url(#gl)"/>
<rect x="696.20" y="492.30" width="8" height="129.10" fill="url(#gd)"/>
<line x1="710.91" y1="621.4" x2="710.91" y2="624.4" stroke="#dcdcdc" stroke-width="0.8"/>
<text x="693.4" y="638.3" font-size="13" fill="#222" text-anchor="middle" style="font-family:'Liberation Sans', 'Noto Sans CJK SC', sans-serif" textLength="18.5" lengthAdjust="spacingAndGlyphs" >绍兴</text>
<rect x="717.22" y="620.94" width="8" height="0.46" fill="url(#gl)"/>
<rect x="731.22" y="620.94" width="8" height="0.46" fill="url(#gd)"/>
<line x1="745.93" y1="621.4" x2="745.93" y2="624.4" stroke="#dcdcdc" stroke-width="0.8"/>
<text x="728.42" y="638.3" font-size="13" fill="#222" text-anchor="middle" style="font-family:'Liberation Sans', 'Noto Sans CJK SC', sans-serif" textLength="18.5" lengthAdjust="spacingAndGlyphs" >金华</text>
<rect x="752.24" y="512.42" width="8" height="108.98" fill="url(#gl)"/>
<rect x="766.24" y="505.15" width="8" height="116.25" fill="url(#gd)"/>
<line x1="780.95" y1="621.4" x2="780.95" y2="624.4" stroke="#dcdcdc" stroke-width="0.8"/>
<text x="763.44" y="638.3" font-size="13" fill="#222" text-anchor="middle" style="font-family:'Liberation Sans', 'Noto Sans CJK SC', sans-serif" textLength="18.5" lengthAdjust="spacingAndGlyphs" >衢州</text>
<rect x="787.25" y="620.94" width="8" height="0.46" fill="url(#gl)"/>
<rect x="801.25" y="620.94" width="8" height="0.46" fill="url(#gd)"/>
<line x1="815.96" y1="621.4" x2="815.96" y2="624.4" stroke="#dcdcdc" stroke-width="0.8"/>
<text x="798.45" y="638.3" font-size="13" fill="#222" text-anchor="middle" style="font-family:'Liberation Sans', 'Noto Sans CJK SC', sans-serif" textLength="18.5" lengthAdjust="spacingAndGlyphs" >舟山</text>
<rect x="822.27" y="512.42" width="8" height="108.98" fill="url(#gl)"/>
<rect x="836.27" y="442.61" width="8" height="178.79" fill="url(#gd)"/>
<line x1="850.98" y1="621.4" x2="850.98" y2="624.4" stroke="#dcdcdc" stroke-width="0.8"/>
<text x="833.47" y="638.3" font-size="13" fill="#222" text-anchor="middle" style="font-family:'Liberation Sans', 'Noto Sans CJK SC', sans-serif" textLength="18.5" lengthAdjust="spacingAndGlyphs" >台州</text>
<rect x="857.29" y="518.15" width="8" height="103.25" fill="url(#gl)"/>
<rect x="871.29" y="516.91" width="8" height="104.49" fill="url(#gd)"/>
<line x1="886.00" y1="621.4" x2="886.00" y2="624.4" stroke="#dcdcdc" stroke-width="0.8"/>
<text x="868.49" y="638.3" font-size="13" fill="#222" text-anchor="middle" style="font-family:'Liberation Sans', 'Noto Sans CJK SC', sans-serif" textLength="18.5" lengthAdjust="spacingAndGlyphs" >丽水</text>
<rect x="597.5" y="658" width="10.5" height="14.5" fill="url(#gl)"/>
<text x="614" y="669" font-size="17" fill="#55718e" text-anchor="start" style="font-family:'Liberation Sans', 'Noto Sans CJK SC', sans-serif" textLength="60.5" lengthAdjust="spacingAndGlyphs" font-weight="350">起拍折扣率</text>
<rect x="682" y="658" width="10" height="14.5" fill="url(#gd)"/>
<text x="698" y="669" font-size="17" fill="#55718e" text-anchor="start" style="font-family:'Liberation Sans', 'Noto Sans CJK SC', sans-serif" textLength="60" lengthAdjust="spacingAndGlyphs" font-weight="350">变现折扣率</text>
</svg>
</body></html>
